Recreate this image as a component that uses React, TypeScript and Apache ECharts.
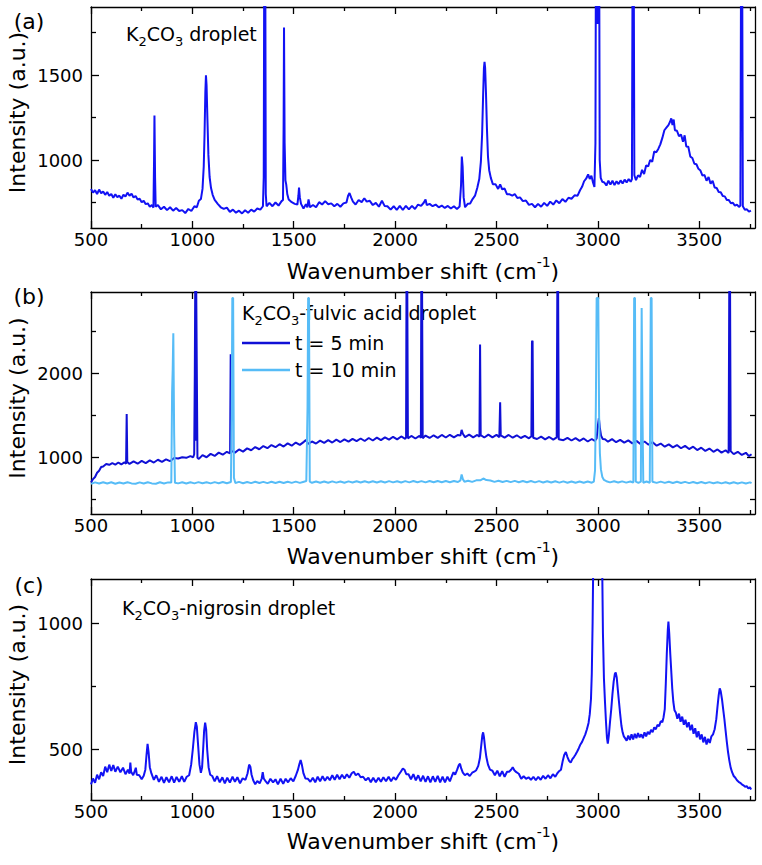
import React, { useEffect, useRef } from 'react';
import * as echarts from 'echarts';

// ---- Raman spectra: [wavenumber shift (cm-1), intensity (a.u.)] ----

// (a) K2CO3 droplet
const spectrumK2CO3: [number, number][] = [
  [500,830],[510,808],[520,822],[530,800],[540,826],[550,804],[560,815],[570,795],[580,812],[590,790],[600,800],[610,778],[620,798],[630,782],[640,790],[650,772],[660,796],[670,785],[680,808],[690,790],[700,802],[710,780],[720,788],[730,768],[740,772],[750,752],[760,760],[770,740],[780,745],[790,725],[800,735],[808,720],[811,1000],[813,1262],[816,900],[819,725],[830,735],[845,710],[860,725],[875,705],[890,722],[905,702],[920,718],[935,700],[950,705],[965,688],[980,712],[995,700],[1010,728],[1022,722],[1032,760],[1042,770],[1050,830],[1056,960],[1060,1150],[1064,1400],[1067,1498],[1070,1440],[1074,1250],[1079,1030],[1085,900],[1092,835],[1100,795],[1110,765],[1125,742],[1140,722],[1155,712],[1170,720],[1185,695],[1200,708],[1215,690],[1230,702],[1245,686],[1260,704],[1275,690],[1290,708],[1305,696],[1320,715],[1335,708],[1348,728],[1352,900],[1355,2500],[1359,2500],[1362,800],[1366,728],[1380,748],[1395,728],[1410,750],[1425,732],[1440,758],[1447,765],[1450,1200],[1452,1780],[1455,1100],[1459,880],[1463,855],[1468,800],[1475,768],[1490,752],[1505,742],[1518,738],[1523,790],[1526,838],[1530,780],[1536,742],[1548,715],[1560,740],[1567,722],[1573,768],[1580,722],[1595,735],[1610,722],[1625,752],[1640,738],[1655,758],[1670,740],[1685,745],[1700,728],[1715,742],[1730,725],[1745,745],[1760,750],[1768,790],[1775,806],[1783,780],[1792,755],[1805,738],[1820,765],[1835,752],[1848,775],[1860,755],[1875,760],[1890,735],[1905,748],[1920,725],[1935,760],[1948,730],[1962,728],[1978,708],[1993,728],[2008,706],[2023,730],[2038,706],[2053,730],[2068,710],[2083,730],[2098,712],[2113,738],[2128,730],[2142,750],[2150,768],[2156,735],[2170,742],[2185,728],[2200,738],[2215,722],[2230,732],[2245,718],[2260,730],[2275,715],[2290,728],[2305,712],[2318,726],[2325,850],[2329,1020],[2333,960],[2338,780],[2345,722],[2358,742],[2370,744],[2382,770],[2394,790],[2405,835],[2415,888],[2423,990],[2429,1150],[2434,1380],[2438,1540],[2441,1578],[2444,1540],[2448,1400],[2453,1180],[2458,1020],[2464,940],[2472,895],[2482,858],[2495,858],[2508,830],[2518,856],[2528,828],[2540,832],[2552,798],[2565,798],[2578,790],[2590,800],[2603,776],[2616,780],[2630,758],[2645,762],[2660,736],[2675,742],[2690,722],[2705,742],[2720,725],[2735,748],[2750,730],[2765,755],[2780,738],[2795,762],[2810,746],[2825,770],[2840,754],[2855,778],[2870,772],[2885,792],[2900,790],[2912,822],[2922,842],[2932,875],[2942,890],[2952,915],[2960,888],[2968,908],[2976,868],[2983,842],[2988,1100],[2991,2500],[2996,2500],[2999,1800],[3002,2500],[3006,2500],[3009,1000],[3014,895],[3022,872],[3032,868],[3042,850],[3052,878],[3062,855],[3072,878],[3082,852],[3092,875],[3102,858],[3112,880],[3122,862],[3132,884],[3142,868],[3152,888],[3162,872],[3168,888],[3172,2500],[3176,2500],[3180,910],[3188,882],[3198,910],[3208,900],[3218,942],[3228,918],[3238,968],[3248,962],[3258,1000],[3268,990],[3278,1050],[3288,1045],[3298,1065],[3308,1092],[3318,1130],[3328,1175],[3338,1190],[3348,1205],[3356,1225],[3362,1245],[3368,1205],[3374,1238],[3380,1175],[3390,1172],[3400,1140],[3410,1150],[3420,1108],[3428,1145],[3436,1080],[3446,1078],[3456,1020],[3466,1012],[3476,978],[3486,975],[3496,948],[3506,938],[3516,908],[3526,912],[3536,878],[3546,900],[3556,860],[3566,878],[3576,838],[3586,835],[3596,812],[3606,810],[3616,788],[3626,786],[3636,765],[3646,764],[3656,746],[3666,748],[3676,732],[3686,738],[3696,724],[3703,732],[3707,2500],[3711,2500],[3715,728],[3725,708],[3735,710],[3745,696],[3755,702],
];

// (b) K2CO3-fulvic acid droplet, t = 5 min
const spectrumFulvic5: [number, number][] = [
  [500,705],[510,745],[520,770],[530,820],[540,845],[550,888],[560,895],[575,925],[590,915],[605,935],[620,918],[635,942],[650,920],[665,945],[673,928],[676,1520],[679,948],[690,925],[710,955],[730,928],[750,962],[770,935],[790,968],[810,942],[830,975],[850,950],[870,980],[890,958],[910,995],[930,990],[950,1005],[970,998],[990,1018],[1004,1005],[1009,1040],[1012,2000],[1014,3000],[1017,1200],[1019,3000],[1022,3000],[1025,1000],[1032,985],[1050,1030],[1070,1005],[1090,1045],[1110,1020],[1130,1060],[1150,1035],[1170,1070],[1186,1050],[1189,2230],[1192,1080],[1210,1060],[1230,1098],[1250,1072],[1270,1110],[1290,1088],[1310,1126],[1330,1100],[1350,1138],[1370,1112],[1390,1150],[1410,1124],[1430,1160],[1450,1132],[1470,1170],[1490,1142],[1510,1180],[1530,1152],[1550,1188],[1560,1210],[1570,1165],[1590,1192],[1610,1168],[1630,1202],[1650,1175],[1670,1208],[1690,1180],[1710,1214],[1730,1186],[1750,1218],[1770,1190],[1790,1224],[1810,1196],[1830,1228],[1850,1198],[1870,1234],[1890,1204],[1910,1238],[1930,1208],[1950,1242],[1970,1214],[1990,1248],[2010,1218],[2030,1252],[2050,1224],[2054,1240],[2056,3000],[2060,3000],[2063,1230],[2080,1258],[2100,1228],[2120,1260],[2127,1236],[2129,3000],[2133,3000],[2136,1232],[2150,1263],[2170,1234],[2190,1266],[2210,1236],[2230,1270],[2250,1240],[2270,1272],[2290,1242],[2310,1270],[2322,1262],[2328,1330],[2334,1285],[2345,1244],[2365,1274],[2385,1242],[2405,1270],[2416,1248],[2419,2345],[2422,1268],[2440,1240],[2460,1274],[2480,1242],[2500,1271],[2514,1244],[2518,1660],[2521,1266],[2540,1238],[2560,1270],[2580,1237],[2600,1266],[2620,1234],[2640,1258],[2660,1230],[2672,1256],[2675,2380],[2678,2390],[2681,1236],[2700,1222],[2720,1250],[2740,1218],[2760,1246],[2780,1214],[2797,1242],[2800,3000],[2804,3000],[2807,1220],[2830,1208],[2850,1236],[2870,1204],[2890,1232],[2910,1200],[2930,1228],[2950,1192],[2970,1222],[2985,1198],[2994,1230],[3000,1380],[3005,1470],[3010,1350],[3016,1260],[3024,1222],[3035,1218],[3050,1190],[3070,1220],[3090,1184],[3110,1212],[3130,1178],[3150,1206],[3170,1170],[3190,1200],[3210,1162],[3230,1192],[3250,1154],[3270,1184],[3290,1142],[3310,1168],[3330,1130],[3350,1158],[3370,1122],[3390,1150],[3410,1112],[3430,1140],[3450,1102],[3470,1130],[3490,1090],[3510,1118],[3530,1080],[3550,1108],[3570,1070],[3590,1098],[3610,1060],[3630,1088],[3645,1055],[3648,3000],[3652,3000],[3655,1078],[3670,1042],[3690,1070],[3710,1032],[3730,1058],[3745,1018],[3758,1040],
];

// (b) K2CO3-fulvic acid droplet, t = 10 min
const spectrumFulvic10: [number, number][] = [
  [500,688],[520,706],[540,692],[560,708],[580,693],[600,707],[620,690],[640,705],[660,692],[680,708],[700,694],[720,689],[740,706],[760,692],[780,708],[800,694],[820,690],[840,707],[860,693],[880,706],[896,705],[900,1780],[903,2050],[906,2480],[910,1300],[914,702],[930,694],[950,708],[970,693],[990,707],[1010,694],[1030,709],[1050,695],[1070,708],[1090,694],[1110,709],[1130,696],[1150,710],[1170,695],[1190,711],[1194,1500],[1197,2900],[1201,2900],[1205,760],[1212,699],[1230,712],[1250,696],[1270,711],[1290,697],[1310,713],[1330,698],[1350,712],[1370,697],[1390,714],[1410,699],[1430,713],[1450,698],[1470,714],[1490,700],[1510,715],[1530,700],[1550,714],[1562,722],[1568,1600],[1571,2900],[1575,2900],[1579,716],[1590,701],[1610,716],[1630,702],[1650,717],[1670,702],[1690,718],[1710,703],[1730,717],[1750,702],[1770,718],[1790,704],[1810,719],[1830,704],[1850,720],[1870,705],[1890,719],[1910,704],[1930,720],[1950,705],[1970,721],[1990,706],[2010,720],[2030,705],[2050,721],[2070,706],[2090,722],[2110,707],[2130,721],[2150,706],[2170,722],[2190,707],[2210,723],[2230,708],[2250,722],[2270,707],[2290,723],[2310,710],[2322,730],[2328,800],[2334,745],[2342,714],[2360,726],[2380,712],[2400,730],[2420,731],[2435,752],[2450,734],[2470,728],[2490,712],[2510,726],[2530,710],[2550,724],[2570,709],[2590,724],[2610,708],[2630,723],[2650,707],[2670,722],[2690,706],[2710,721],[2730,705],[2750,720],[2770,704],[2790,719],[2810,703],[2830,718],[2850,702],[2870,717],[2890,702],[2910,716],[2930,701],[2950,716],[2970,702],[2980,715],[2986,850],[2990,1600],[2994,2900],[3002,2900],[3006,1500],[3010,1050],[3015,860],[3022,770],[3030,735],[3042,720],[3060,706],[3080,719],[3100,704],[3120,718],[3140,703],[3160,717],[3175,704],[3179,2900],[3183,2900],[3187,714],[3200,700],[3212,715],[3216,2780],[3220,1500],[3224,702],[3240,716],[3256,702],[3261,2900],[3265,2900],[3269,714],[3290,700],[3310,715],[3330,700],[3350,714],[3370,699],[3390,713],[3410,698],[3430,712],[3450,697],[3470,711],[3490,696],[3510,710],[3530,695],[3550,709],[3570,695],[3590,708],[3610,694],[3630,708],[3650,693],[3670,707],[3690,693],[3710,706],[3730,692],[3750,706],[3758,696],
];

// (c) K2CO3-nigrosin droplet
const spectrumNigrosin: [number, number][] = [
  [500,362],[510,385],[520,368],[530,400],[540,382],[550,410],[560,395],[570,432],[580,410],[590,440],[600,415],[610,438],[620,412],[632,432],[645,410],[658,428],[670,402],[682,420],[690,404],[694,448],[698,412],[708,398],[716,415],[721,428],[726,400],[738,398],[750,382],[760,396],[768,420],[774,480],[779,522],[784,490],[790,430],[798,405],[810,380],[822,398],[835,372],[848,392],[860,368],[872,390],[885,370],[898,394],[910,369],[922,391],[935,372],[948,394],[960,372],[972,392],[984,398],[994,440],[1002,500],[1010,570],[1017,608],[1022,590],[1028,520],[1035,440],[1042,408],[1048,430],[1053,500],[1058,575],[1063,606],[1068,580],[1073,500],[1080,430],[1088,400],[1098,395],[1110,374],[1122,394],[1135,370],[1148,390],[1160,366],[1172,388],[1185,369],[1198,392],[1210,372],[1222,390],[1235,366],[1248,386],[1262,380],[1272,405],[1280,440],[1286,432],[1292,400],[1300,378],[1310,362],[1320,375],[1332,366],[1342,385],[1347,410],[1352,385],[1360,376],[1372,364],[1385,384],[1398,370],[1410,382],[1422,362],[1435,384],[1448,364],[1460,384],[1472,370],[1485,386],[1498,374],[1510,396],[1520,418],[1527,440],[1534,458],[1540,440],[1548,405],[1558,385],[1570,384],[1582,372],[1594,388],[1606,370],[1618,392],[1630,374],[1642,394],[1654,376],[1666,392],[1678,378],[1690,398],[1702,380],[1714,400],[1726,382],[1738,400],[1750,385],[1762,402],[1774,388],[1786,406],[1796,412],[1806,398],[1818,405],[1830,390],[1842,392],[1855,378],[1868,388],[1880,370],[1892,388],[1905,370],[1918,388],[1930,372],[1942,390],[1955,374],[1968,392],[1980,374],[1992,390],[2004,380],[2016,398],[2028,412],[2038,425],[2046,420],[2055,402],[2066,402],[2078,382],[2090,402],[2102,378],[2114,398],[2126,374],[2138,396],[2150,372],[2162,394],[2174,370],[2186,394],[2198,372],[2210,396],[2222,370],[2234,392],[2246,370],[2258,392],[2270,374],[2280,395],[2288,410],[2296,400],[2306,420],[2314,438],[2320,444],[2326,425],[2334,408],[2344,398],[2356,405],[2368,395],[2380,408],[2390,412],[2400,418],[2410,435],[2418,465],[2424,510],[2430,555],[2434,568],[2438,550],[2444,505],[2450,470],[2458,440],[2468,420],[2480,416],[2492,398],[2504,416],[2516,394],[2528,414],[2540,392],[2552,412],[2562,412],[2572,420],[2580,430],[2588,418],[2598,410],[2610,404],[2622,384],[2634,394],[2646,384],[2658,390],[2670,380],[2682,392],[2694,378],[2706,392],[2718,380],[2730,396],[2742,384],[2754,398],[2766,386],[2778,402],[2790,392],[2800,406],[2810,415],[2818,420],[2826,452],[2834,478],[2842,490],[2850,470],[2858,455],[2866,448],[2874,462],[2882,470],[2890,480],[2898,492],[2906,505],[2914,520],[2922,530],[2930,545],[2938,560],[2946,580],[2954,605],[2960,640],[2966,700],[2970,800],[2974,1000],[2978,1300],[2984,1500],[2995,1400],[3005,1420],[3016,1500],[3021,1250],[3025,960],[3030,780],[3035,690],[3040,610],[3045,545],[3049,523],[3054,555],[3060,610],[3066,660],[3072,720],[3078,770],[3084,800],[3088,805],[3093,785],[3098,740],[3104,690],[3110,640],[3116,595],[3122,568],[3128,552],[3134,545],[3142,535],[3150,555],[3158,538],[3166,560],[3174,540],[3182,562],[3190,545],[3198,565],[3206,548],[3214,560],[3222,545],[3230,568],[3238,552],[3246,570],[3254,560],[3262,578],[3270,568],[3278,588],[3286,580],[3294,598],[3302,592],[3310,612],[3318,608],[3324,628],[3330,660],[3335,760],[3340,880],[3345,975],[3348,1006],[3352,960],[3357,880],[3362,810],[3367,740],[3372,690],[3378,655],[3385,645],[3392,622],[3400,642],[3408,610],[3416,630],[3424,598],[3432,618],[3440,588],[3448,608],[3456,576],[3464,598],[3472,562],[3480,584],[3488,548],[3496,572],[3504,540],[3512,560],[3520,528],[3528,550],[3536,520],[3544,542],[3552,526],[3560,552],[3568,560],[3576,580],[3584,620],[3590,670],[3596,715],[3601,742],[3606,730],[3612,700],[3618,660],[3624,620],[3630,575],[3636,530],[3642,490],[3648,458],[3655,428],[3662,410],[3670,395],[3678,388],[3686,378],[3694,372],[3702,368],[3710,362],[3718,358],[3726,352],[3734,355],[3742,346],[3750,350],[3756,342],
];

// ---- axis ranges and tick values ----
const xRange: [number, number] = [500, 3775];
const xMajorTicks = [500, 1000, 1500, 2000, 2500, 3000, 3500];
const xMinorTicks = [750, 1250, 1750, 2250, 2750, 3250, 3750];

const yRangeA: [number, number] = [600, 1900];
const yMajorA = [1000, 1500];
const yMinorA = [750, 1250, 1750];

const yRangeB: [number, number] = [330, 2970];
const yMajorB = [1000, 2000];
const yMinorB = [500, 1500, 2500];

const yRangeC: [number, number] = [300, 1175];
const yMajorC = [500, 1000];
const yMinorC = [750];

const legendNames = ['t = 5 min', 't = 10 min'];

const FONT = "'DejaVu Sans', 'Liberation Sans', sans-serif";
const BLUE = '#1212f4';
const NAVY = '#1010d6';
const SKY = '#56bcf7';

// panel frames in pixels
const LEFT = 91;
const WIDTH = 664;
const panels = [
  { top: 7, height: 221, yRange: yRangeA, yMajor: yMajorA, yMinor: yMinorA },
  { top: 292, height: 222, yRange: yRangeB, yMajor: yMajorB, yMinor: yMinorB },
  { top: 579, height: 221, yRange: yRangeC, yMajor: yMajorC, yMinor: yMinorC },
];

const plainNumber = (v: number) => String(v);

function buildOption(): echarts.EChartsOption {
  const grids: any[] = [];
  const xAxes: any[] = [];
  const yAxes: any[] = [];
  const lineStyle = { color: '#000', width: 1.3 };

  panels.forEach((p) => {
    // main grid (frame, major ticks, labels) + overlay grid (minor ticks)
    for (let layer = 0; layer < 2; layer++) {
      const gi = grids.length;
      grids.push({ left: LEFT, top: p.top, width: WIDTH, height: p.height, containLabel: false });
      const major = layer === 0;
      const tickLen = major ? 7 : 4;
      ['bottom', 'top'].forEach((pos) => {
        xAxes.push({
          type: 'value', gridIndex: gi, position: pos, min: xRange[0], max: xRange[1],
          axisLine: { show: major, onZero: false, lineStyle },
          axisTick: { show: true, inside: true, length: tickLen, customValues: major ? xMajorTicks : xMinorTicks, lineStyle },
          axisLabel: {
            show: major && pos === 'bottom', customValues: xMajorTicks, margin: 2,
            formatter: plainNumber, color: '#000', fontSize: 18, fontFamily: FONT,
          },
          splitLine: { show: false },
        });
      });
      ['left', 'right'].forEach((pos) => {
        yAxes.push({
          type: 'value', gridIndex: gi, position: pos, min: p.yRange[0], max: p.yRange[1],
          axisLine: { show: major, onZero: false, lineStyle },
          axisTick: { show: true, inside: true, length: tickLen + 1, customValues: major ? p.yMajor : p.yMinor, lineStyle },
          axisLabel: {
            show: major && pos === 'left', customValues: p.yMajor, margin: 8,
            formatter: plainNumber, color: '#000', fontSize: 18, fontFamily: FONT,
          },
          splitLine: { show: false },
        });
      });
    }
  });

  // axis index of the main bottom x / left y axis of panel i
  const axisOf = (i: number) => i * 4;

  const mkLine = (name: string, data: [number, number][], panel: number, color: string) => ({
    type: 'line', name, data,
    xAxisIndex: axisOf(panel), yAxisIndex: axisOf(panel),
    symbol: 'none', showSymbol: false, clip: true, silent: true,
    lineStyle: { color, width: 2 }, itemStyle: { color },
  });

  const sub = { fontSize: 13, fontFamily: FONT, fill: '#000', lineHeight: 12, verticalAlign: 'bottom' };
  const sup = { fontSize: 14, fontFamily: FONT, fill: '#000', lineHeight: 14, verticalAlign: 'top' };
  const base19 = { fontSize: 19, fontFamily: FONT, fill: '#000', lineHeight: 28 };
  const base22 = { fontSize: 22, fontFamily: FONT, fill: '#000', lineHeight: 32 };

  const graphics: any[] = [];
  const panelLetters = ['(a)', '(b)', '(c)'];
  const letterY = [21, 296, 585];
  const titleText = [
    '{n|K}{s|2}{n|CO}{s|3}{n| droplet}',
    '{n|K}{s|2}{n|CO}{s|3}{n|-fulvic acid droplet}',
    '{n|K}{s|2}{n|CO}{s|3}{n|-nigrosin droplet}',
  ];
  const titleX = [126, 242, 122];
  const titleY = [34, 313, 608];
  const xNameY = [271, 556, 841];

  panels.forEach((p, i) => {
    graphics.push({
      type: 'text', x: 29, y: letterY[i],
      style: { text: panelLetters[i], fontSize: 22, fontFamily: FONT, fill: '#000', align: 'center', verticalAlign: 'middle' },
    });
    graphics.push({
      type: 'text', x: titleX[i], y: titleY[i],
      style: { text: titleText[i], rich: { n: base19, s: sub }, align: 'left', verticalAlign: 'middle' },
    });
    graphics.push({
      type: 'text', x: 17, y: p.top + p.height / 2 - 5, rotation: Math.PI / 2,
      style: { text: 'Intensity (a.u.)', fontSize: 22, fontFamily: FONT, fill: '#000', align: 'center', verticalAlign: 'middle' },
    });
    graphics.push({
      type: 'text', x: LEFT + WIDTH / 2, y: xNameY[i],
      style: { text: '{n|Wavenumber shift (cm}{u|-1}{n|)}', rich: { n: base22, u: sup }, align: 'center', verticalAlign: 'middle' },
    });
  });

  return {
    animation: false,
    backgroundColor: '#fff',
    grid: grids,
    xAxis: xAxes,
    yAxis: yAxes,
    legend: {
      data: legendNames.map((name) => ({ name, icon: 'rect' })),
      orient: 'vertical', left: 242, top: 333, padding: 0,
      itemWidth: 48, itemHeight: 2.5, itemGap: 7,
      selectedMode: false,
      textStyle: { fontSize: 19, fontFamily: FONT, color: '#000', lineHeight: 20 },
    },
    series: [
      mkLine('K2CO3 droplet', spectrumK2CO3, 0, BLUE),
      mkLine(legendNames[0], spectrumFulvic5, 1, NAVY),
      mkLine(legendNames[1], spectrumFulvic10, 1, SKY),
      mkLine('K2CO3-nigrosin droplet', spectrumNigrosin, 2, BLUE),
    ] as any,
    graphic: graphics,
  };
}

export default function App() {
  const ref = useRef<HTMLDivElement>(null);
  useEffect(() => {
    document.body.style.margin = '0';
    if (!ref.current) return;
    const chart = echarts.init(ref.current, undefined, { renderer: 'svg' });
    chart.setOption(buildOption());
    return () => chart.dispose();
  }, []);
  return <div ref={ref} style={{ width: 762, height: 865 }} />;
}
